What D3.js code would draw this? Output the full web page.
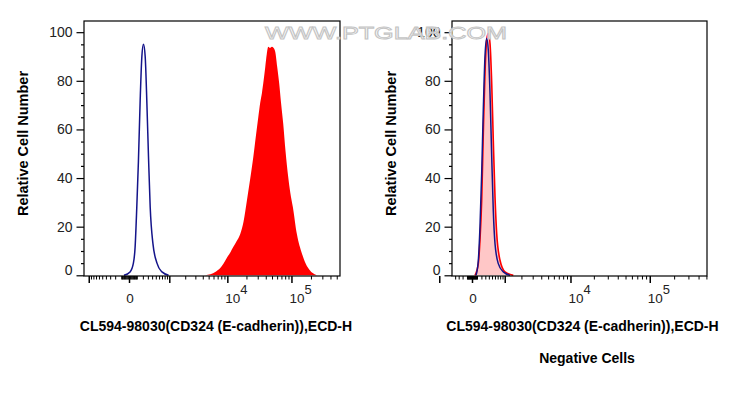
<!DOCTYPE html>
<html>
<head>
<meta charset="utf-8">
<script src="https://cdn.jsdelivr.net/npm/d3@7"></script>
<style>
  html, body { margin: 0; padding: 0; background: #fff; }
  svg { display: block; }
  text { font-family: "Liberation Sans", Arial, sans-serif; }
</style>
</head>
<body>
<svg id="chart" width="737" height="399"></svg>
<script>
// ---------- data ----------
// Left panel (stained sample): unstained control (blue line) and stained cells (red fill)
const leftCtrlX = [-62, 12, 53, 76, 100, 125, 153, 182, 211, 244, 279, 314, 353, 421, 534, 699, 967];
const leftCtrlY = [0, 1.4, 5, 11.6, 28, 47, 72, 90, 95, 90, 70.7, 48.7, 28, 13, 5, 1.4, 0];
const leftPosX = [4400, 6500, 7700, 9000, 10000, 11200, 12400, 14000, 16000, 18000, 20400, 23000, 25600, 28000, 30600, 32800, 34900, 37000, 39300, 41500, 43700, 46500, 49800, 53000, 56100, 60000, 64600, 69000, 74500, 81000, 89000, 96000, 105300, 121300, 145000, 165000, 181300, 210000, 247000];
const leftPosY = [0, 1.5, 3, 5.5, 7.5, 9.5, 11.6, 14, 17, 22, 31, 40, 48.7, 57, 65, 71, 75, 80, 85.7, 91, 94, 93.5, 94, 93.5, 92, 86, 79, 71, 62.5, 51, 40.5, 34, 28, 17, 9, 5, 3, 1, 0];
// Right panel (negative cells): control (blue line) and stained (pink fill, red line)
const rightCtrlX = [79, 128, 166, 207, 247, 291, 338, 384, 436, 490, 542, 602, 724, 935, 1267];
const rightCtrlY = [0, 6, 20, 42, 68, 90, 97.4, 92.6, 74.8, 48.7, 26.7, 13, 4.8, 1.4, 0];
const rightPosX = [58, 128, 166, 207, 247, 291, 338, 384, 436, 490, 542, 602, 663, 793, 1013, 1455];
const rightPosY = [0, 4.8, 14.4, 30.9, 58.3, 83, 96.7, 99.5, 95.3, 78.9, 55.5, 32.2, 17.2, 6.2, 1.4, 0];

const yMajorTicks = [0, 20, 40, 60, 80, 100];
const yMinorTicks = [5, 10, 15, 25, 30, 35, 45, 50, 55, 65, 70, 75, 85, 90, 95];
const xMajorTicks = [-1000, 0, 1000, 10000, 100000];
const xMinorTicks = [-900, -800, -700, -600, -500, -400, -300, -200, -100,
  -90, -80, -70, -60, -50, -40, -30, -20, -10, 10, 20, 30, 40, 50, 60, 70, 80, 90,
  100, 200, 300, 400, 500, 600, 700, 800, 900,
  2000, 3000, 4000, 5000, 6000, 7000, 8000, 9000,
  20000, 30000, 40000, 50000, 60000, 70000, 80000, 90000,
  200000, 300000, 400000, 500000];
const xLabelTicks = [{v: 0, base: "0", exp: ""}, {v: 10000, base: "10", exp: "4"}, {v: 100000, base: "10", exp: "5"}];

const xTitle = "CL594-98030(CD324 (E-cadherin)),ECD-H";
const yTitle = "Relative Cell Number";
const subTitle = "Negative Cells";
const watermark = "WWW.PTGLAB.COM";

// ---------- layout ----------
const panels = [
  { left: 84, right: 340, xDomain: [-1241, 561400], constant: 315,
    ctrlX: leftCtrlX, ctrlY: leftCtrlY, posX: leftPosX, posY: leftPosY,
    posFill: "#ff0000", posStroke: "none", sub: null, titleX: 216 },
  { left: 452, right: 707, xDomain: [-499, 508300], constant: 655,
    ctrlX: rightCtrlX, ctrlY: rightCtrlY, posX: rightPosX, posY: rightPosY,
    posFill: "rgba(255,0,0,0.22)", posStroke: "#ff0000", sub: subTitle, titleX: 582.5 }
];
const plotTop = 21, plotBottom = 276;
const blue = "#14148a";

const svg = d3.select("#chart");
const y = d3.scaleLinear().domain([0, 104.6]).range([plotBottom - 0.7, plotTop]);

panels.forEach((p, i) => {
  const x = d3.scaleSymlog().constant(p.constant).domain(p.xDomain).range([p.left, p.right]);
  const g = svg.append("g");
  const clipId = "clip" + i;
  svg.append("clipPath").attr("id", clipId).append("rect")
    .attr("x", p.left).attr("y", plotTop).attr("width", p.right - p.left).attr("height", plotBottom - plotTop);

  const posData = p.posX.map((v, k) => [v, p.posY[k]]);
  const ctrlData = p.ctrlX.map((v, k) => [v, p.ctrlY[k]]);

  const area = d3.area().x(d => x(d[0])).y0(y(0)).y1(d => y(d[1])).curve(d3.curveMonotoneX);
  const line = d3.line().x(d => x(d[0])).y(d => y(d[1])).curve(d3.curveMonotoneX);

  const plot = g.append("g").attr("clip-path", `url(#${clipId})`);
  plot.append("path").datum(posData).attr("d", area).attr("fill", p.posFill).attr("stroke", "none");
  if (p.posStroke !== "none") {
    plot.append("path").datum(posData).attr("d", line).attr("fill", "none")
      .attr("stroke", p.posStroke).attr("stroke-width", 1.6);
  }
  plot.append("path").datum(ctrlData).attr("d", line).attr("fill", "none")
    .attr("stroke", blue).attr("stroke-width", 1.5);

  // frame
  g.append("rect").attr("x", p.left).attr("y", plotTop).attr("width", p.right - p.left).attr("height", plotBottom - plotTop)
    .attr("fill", "none").attr("stroke", "#000").attr("stroke-width", 1.2);

  // y axis
  const yMaj = d3.axisLeft(y).tickValues(yMajorTicks).tickSize(7.5).tickPadding(4);
  const yMin = d3.axisLeft(y).tickValues(yMinorTicks).tickSize(3).tickFormat("");
  const ya = g.append("g").attr("transform", `translate(${p.left},0)`).call(yMaj);
  g.append("g").attr("transform", `translate(${p.left},0)`).call(yMin).select(".domain").remove();
  ya.select(".domain").remove();
  ya.selectAll("text").attr("font-size", 14).attr("fill", "#222")
    .attr("font-family", "'Liberation Sans', Arial, sans-serif")
    .attr("y", d => d === 0 ? -5 : 0);
  g.selectAll(".tick line").attr("stroke", "#000").attr("stroke-width", 1.2);

  // x axis
  const xMaj = d3.axisBottom(x).tickValues(xMajorTicks).tickSize(7).tickFormat("");
  const xMin = d3.axisBottom(x).tickValues(xMinorTicks.filter(v => v > p.xDomain[0] && v < p.xDomain[1])).tickSize(3.5).tickFormat("");
  const xa = g.append("g").attr("transform", `translate(0,${plotBottom})`).call(xMaj);
  const xb = g.append("g").attr("transform", `translate(0,${plotBottom})`).call(xMin);
  xa.select(".domain").remove(); xb.select(".domain").remove();
  xa.selectAll(".tick line").attr("stroke-width", 1.5);
  xb.selectAll(".tick line").attr("stroke-width", 1);

  xLabelTicks.forEach(t => {
    const tx = g.append("text").attr("y", 303).attr("font-size", 13.5).attr("fill", "#222");
    if (t.exp === "") {
      tx.attr("x", x(t.v) + 1).attr("text-anchor", "middle").text(t.base);
    } else {
      tx.attr("x", x(t.v) - 2).attr("text-anchor", "start");
      tx.append("tspan").text(t.base);
      tx.append("tspan").attr("dy", -9).attr("font-size", 13).text(t.exp);
    }
  });

  // titles
  g.append("text").attr("x", p.titleX).attr("y", 331)
    .attr("text-anchor", "middle").attr("font-size", 14).attr("font-weight", "bold").attr("fill", "#000")
    .text(xTitle);
  g.append("text").attr("transform", `translate(${p.left - 56},${(plotTop + plotBottom) / 2 - 5}) rotate(-90)`)
    .attr("text-anchor", "middle").attr("font-size", 14.5).attr("font-weight", "bold").attr("fill", "#000")
    .text(yTitle);
  if (p.sub) {
    g.append("text").attr("x", 587).attr("y", 363)
      .attr("text-anchor", "middle").attr("font-size", 14).attr("font-weight", "bold").attr("fill", "#000")
      .text(p.sub);
  }
});

// watermark (drawn over the plots, as in the source image)
svg.append("text").attr("x", 265).attr("y", 39).attr("font-size", 17)
  .attr("textLength", 242).attr("lengthAdjust", "spacingAndGlyphs")
  .attr("fill", "rgba(255,255,255,0.8)").attr("stroke", "#c4c4c4").attr("stroke-width", 0.9)
  .text(watermark);
</script>
</body>
</html>
